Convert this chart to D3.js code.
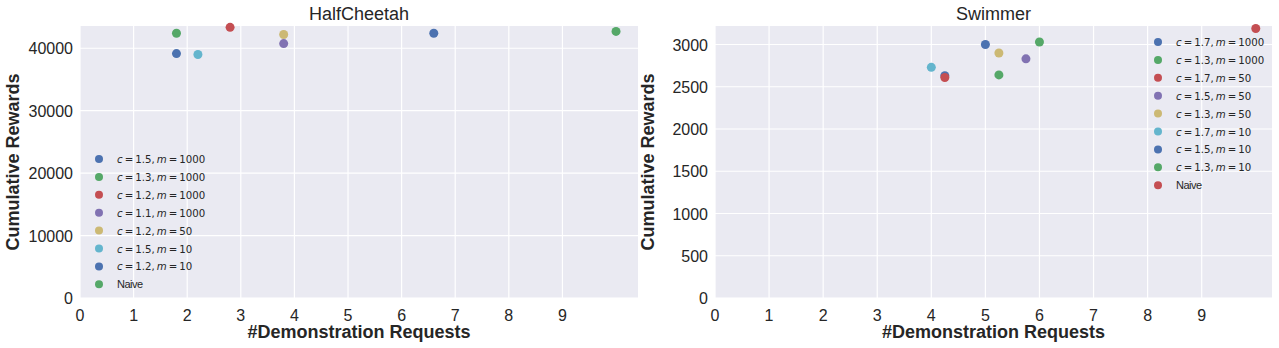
<!DOCTYPE html>
<html>
<head>
<meta charset="utf-8">
<script src="https://cdn.jsdelivr.net/npm/d3@7"></script>
<style>
  body { margin: 0; background: #fff; }
  svg text { fill: #262626; }
</style>
</head>
<body>
<svg id="chart" width="1279" height="348"></svg>
<script>
// seaborn "deep" palette, cycled per series
var palette = ["#4C72B0", "#55A868", "#C44E52", "#8172B2", "#CCB974", "#64B5CD"];
var xTicks = [0, 1, 2, 3, 4, 5, 6, 7, 8, 9];

// HalfCheetah
var cheetahLabels = [["1.5", "1000"], ["1.3", "1000"], ["1.2", "1000"], ["1.1", "1000"], ["1.2", "50"], ["1.5", "10"], ["1.2", "10"], "Naive"];
var cheetahX = [1.8, 1.8, 2.8, 3.8, 3.8, 2.2, 6.6, 10];
var cheetahY = [39150, 42400, 43350, 40750, 42200, 39000, 42400, 42700];
var cheetahYTicks = [0, 10000, 20000, 30000, 40000];

// Swimmer
var swimmerLabels = [["1.7", "1000"], ["1.3", "1000"], ["1.7", "50"], ["1.5", "50"], ["1.3", "50"], ["1.7", "10"], ["1.5", "10"], ["1.3", "10"], "Naive"];
var swimmerX = [4.25, 6, 4.25, 5.75, 5.25, 4, 5, 5.25, 10];
var swimmerY = [2630, 3030, 2610, 2830, 2900, 2730, 3000, 2640, 3190];
var swimmerYTicks = [0, 500, 1000, 1500, 2000, 2500, 3000];

var svg = d3.select("#chart");

function drawPanel(opt) {
    var xs = opt.xs, ys = opt.ys;
    var xMin = d3.min(xs), xMax = d3.max(xs);
    var yMin = d3.min(ys), yMax = d3.max(ys);

    var x = d3.scaleLinear()
        .domain([0, xMax + 0.05 * (xMax - xMin)])
        .range([opt.left, opt.right]);
    var y = d3.scaleLinear()
        .domain([0, yMax + 0.05 * (yMax - yMin)])
        .range([opt.bottom, opt.top]);

    var g = svg.append("g");

    g.append("rect")
        .attr("x", opt.left).attr("y", opt.top)
        .attr("width", opt.right - opt.left)
        .attr("height", opt.bottom - opt.top)
        .attr("fill", "#EAEAF2");

    // grid
    g.selectAll(".vgrid").data(xTicks).enter().append("line")
        .attr("x1", function(d) { return x(d); }).attr("x2", function(d) { return x(d); })
        .attr("y1", opt.top).attr("y2", opt.bottom)
        .attr("stroke", "#fff").attr("stroke-width", 1.2);
    g.selectAll(".hgrid").data(opt.yTicks).enter().append("line")
        .attr("x1", opt.left).attr("x2", opt.right)
        .attr("y1", function(d) { return y(d); }).attr("y2", function(d) { return y(d); })
        .attr("stroke", "#fff").attr("stroke-width", 1.2);

    // tick labels
    g.selectAll(".xt").data(xTicks).enter().append("text")
        .attr("x", function(d) { return x(d); })
        .attr("y", opt.bottom + 23)
        .attr("text-anchor", "middle")
        .attr("font-family", "Liberation Sans, Arial, sans-serif")
        .attr("font-size", 16)
        .text(function(d) { return d; });
    g.selectAll(".yt").data(opt.yTicks).enter().append("text")
        .attr("x", opt.left - 7)
        .attr("y", function(d) { return y(d) + 6; })
        .attr("text-anchor", "end")
        .attr("font-family", "Liberation Sans, Arial, sans-serif")
        .attr("font-size", 16)
        .text(function(d) { return d; });

    // title + axis labels
    var cx = (opt.left + opt.right) / 2;
    g.append("text")
        .attr("x", cx).attr("y", 20)
        .attr("text-anchor", "middle")
        .attr("font-family", "Liberation Sans, Arial, sans-serif")
        .attr("font-size", 18)
        .text(opt.title);
    g.append("text")
        .attr("x", cx).attr("y", 338)
        .attr("text-anchor", "middle")
        .attr("font-family", "Liberation Sans, Arial, sans-serif")
        .attr("font-size", 18).attr("font-weight", "bold")
        .text("#Demonstration Requests");
    g.append("text")
        .attr("transform", "translate(" + (opt.left - 61) + "," + ((opt.top + opt.bottom) / 2) + ") rotate(-90)")
        .attr("text-anchor", "middle")
        .attr("font-family", "Liberation Sans, Arial, sans-serif")
        .attr("font-size", 18).attr("font-weight", "bold")
        .text("Cumulative Rewards");

    // points
    g.selectAll(".dot").data(xs).enter().append("circle")
        .attr("cx", function(d) { return x(d); })
        .attr("cy", function(d, i) { return y(ys[i]); })
        .attr("r", 4.5)
        .attr("fill", function(d, i) { return palette[i % palette.length]; });

    // legend (no frame, like seaborn's default)
    var leg = g.selectAll(".leg").data(opt.labels).enter().append("g")
        .attr("transform", function(d, i) {
            return "translate(" + opt.legX + "," + (opt.legY + i * 17.9) + ")";
        });
    leg.append("circle")
        .attr("r", 4)
        .attr("fill", function(d, i) { return palette[i % palette.length]; });
    leg.each(function(d) {
        var t = d3.select(this).append("text")
            .attr("x", 18).attr("y", 4);
        if (typeof d === "string") {
            t.attr("font-family", "Liberation Sans, Arial, sans-serif")
                .attr("font-size", 11)
                .attr("letter-spacing", -0.5)
                .text(d);
        } else {
            t.attr("font-family", "DejaVu Sans, sans-serif").attr("font-size", 10.2);
            t.append("tspan").attr("font-style", "italic").text("c");
            t.append("tspan").text("\u2009=\u2009" + d[0] + ",\u2009");
            t.append("tspan").attr("font-style", "italic").text("m");
            t.append("tspan").text("\u2009=\u2009" + d[1]);
        }
    });
}

drawPanel({
    title: "HalfCheetah", xs: cheetahX, ys: cheetahY, labels: cheetahLabels,
    yTicks: cheetahYTicks,
    left: 80, right: 638, top: 26, bottom: 298,
    legX: 99, legY: 159
});

drawPanel({
    title: "Swimmer", xs: swimmerX, ys: swimmerY, labels: swimmerLabels,
    yTicks: swimmerYTicks,
    left: 715, right: 1272, top: 26, bottom: 298,
    legX: 1158, legY: 42
});
</script>
</body>
</html>
